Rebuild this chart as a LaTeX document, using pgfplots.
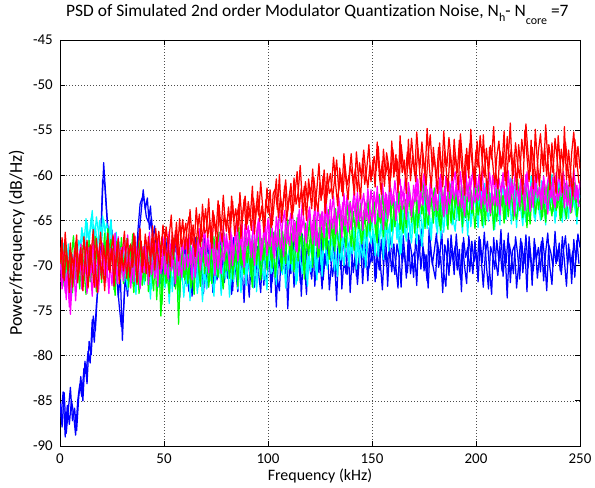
\documentclass[border=0pt]{standalone}
\usepackage{fontspec}
\setmainfont{Carlito}[Ligatures=CommonOff]
\usepackage{pgfplots}
\pgfplotsset{compat=1.18}
\usepackage{pgfplotstable}

% PSD values (dB/Hz) at 0,1,...,250 kHz (tables A) and 0.5,1.5,...,249.5 kHz (tables B)
\pgfplotstableread[row sep=\\, header=false]{
-85.2\\-87.9\\-84.1\\-88.6\\-86.0\\-83.5\\-87.2\\-85.8\\-88.3\\-84.6\\
-82.3\\-85.0\\-80.6\\-83.1\\-78.4\\-79.9\\-75.6\\-77.2\\-73.0\\-70.4\\
-64.8\\-58.6\\-62.3\\-65.9\\-68.4\\-66.1\\-70.8\\-69.2\\-73.5\\-71.0\\
-78.3\\-72.6\\-70.1\\-71.8\\-68.9\\-70.6\\-67.2\\-69.8\\-66.5\\-64.1\\
-61.6\\-63.8\\-62.5\\-66.0\\-64.7\\-68.2\\-67.0\\-70.3\\-68.6\\-71.2\\
-69.0\\-71.8\\-68.4\\-70.9\\-67.6\\-72.3\\-69.5\\-68.1\\-71.6\\-69.9\\
-67.8\\-70.6\\-72.9\\-68.7\\-69.8\\-66.9\\-71.3\\-70.2\\-68.0\\-73.1\\
-69.4\\-67.5\\-71.0\\-69.9\\-72.4\\-68.3\\-70.7\\-66.8\\-69.6\\-71.9\\
-68.9\\-70.5\\-67.3\\-72.8\\-69.1\\-70.9\\-68.2\\-71.7\\-69.3\\-67.0\\
-70.8\\-73.5\\-68.6\\-69.7\\-71.4\\-67.9\\-70.3\\-69.0\\-72.2\\-68.5\\
-70.1\\-67.4\\-71.8\\-69.3\\-74.6\\-68.8\\-70.5\\-66.7\\-69.9\\-72.0\\
-68.4\\-70.9\\-67.1\\-69.6\\-71.3\\-66.8\\-73.4\\-68.9\\-70.2\\-67.6\\
-69.8\\-71.5\\-68.0\\-70.7\\-66.4\\-69.2\\-72.6\\-68.7\\-70.0\\-67.3\\
-68.9\\-71.2\\-69.5\\-73.9\\-67.8\\-70.4\\-68.1\\-66.6\\-71.0\\-69.3\\
-67.5\\-70.8\\-68.6\\-72.1\\-69.0\\-66.9\\-70.3\\-68.2\\-71.7\\-67.4\\
-69.6\\-68.0\\-71.4\\-66.5\\-69.8\\-72.7\\-67.9\\-70.1\\-68.5\\-66.8\\
-69.3\\-71.0\\-67.6\\-68.9\\-72.4\\-66.7\\-69.5\\-70.8\\-67.2\\-68.6\\
-71.3\\-67.0\\-69.4\\-68.1\\-65.9\\-70.6\\-68.8\\-72.5\\-67.5\\-69.9\\
-68.3\\-66.4\\-70.2\\-69.0\\-73.0\\-67.7\\-68.9\\-71.1\\-66.6\\-69.4\\
-67.8\\-70.5\\-68.2\\-72.9\\-66.9\\-69.1\\-68.0\\-70.7\\-67.3\\-69.6\\
-68.5\\-71.8\\-67.1\\-69.7\\-66.3\\-70.0\\-72.6\\-67.9\\-68.8\\-70.4\\
-67.2\\-69.5\\-66.0\\-71.2\\-68.4\\-73.6\\-67.6\\-69.0\\-70.9\\-66.8\\
-68.7\\-71.5\\-67.4\\-69.8\\-66.6\\-70.3\\-68.1\\-72.2\\-67.0\\-69.3\\
-68.0\\-70.7\\-66.9\\-69.2\\-72.8\\-67.7\\-68.6\\-70.1\\-66.2\\-69.5\\
-67.5\\-71.0\\-68.3\\-66.7\\-69.9\\-68.2\\-72.0\\-67.1\\-69.4\\-66.5\\
-68.0\\
}\tblue
\pgfplotstableread[row sep=\\, header=false]{
-86.8\\-84.0\\-89.0\\-85.5\\-87.6\\-84.9\\-86.4\\-88.8\\-85.0\\-83.2\\
-84.5\\-81.4\\-82.0\\-79.5\\-80.8\\-76.0\\-78.5\\-74.3\\-72.0\\-67.5\\
-60.5\\-61.0\\-64.5\\-67.3\\-65.0\\-69.6\\-68.0\\-71.8\\-74.5\\-76.8\\
-75.0\\-71.2\\-73.4\\-69.5\\-71.9\\-68.3\\-70.5\\-66.0\\-63.2\\-62.5\\
-62.8\\-64.6\\-65.2\\-63.4\\-67.1\\-65.6\\-69.2\\-67.3\\-72.0\\-68.2\\
-70.6\\-67.0\\-72.8\\-68.9\\-70.4\\-66.5\\-71.1\\-73.6\\-68.6\\-70.2\\
-72.0\\-67.2\\-70.0\\-73.4\\-68.1\\-70.8\\-67.5\\-71.9\\-69.2\\-66.6\\
-72.5\\-70.1\\-67.9\\-73.0\\-69.3\\-71.6\\-68.1\\-72.8\\-70.4\\-67.8\\
-71.4\\-68.5\\-73.2\\-66.9\\-70.6\\-72.9\\-67.5\\-70.0\\-74.1\\-68.7\\
-69.5\\-71.6\\-66.6\\-72.4\\-68.8\\-70.9\\-73.0\\-67.4\\-70.6\\-71.8\\
-68.2\\-73.0\\-69.0\\-66.2\\-71.5\\-72.8\\-67.6\\-70.3\\-68.4\\-74.8\\
-69.3\\-67.0\\-72.4\\-70.1\\-68.0\\-71.9\\-66.5\\-69.7\\-73.2\\-68.6\\
-70.9\\-67.2\\-72.3\\-68.5\\-70.8\\-66.3\\-71.6\\-69.0\\-67.8\\-72.7\\
-69.8\\-67.1\\-71.4\\-68.3\\-66.0\\-72.6\\-69.4\\-70.9\\-67.5\\-73.0\\
-68.8\\-66.4\\-71.2\\-69.6\\-67.3\\-72.0\\-68.4\\-65.8\\-70.3\\-69.2\\
-66.9\\-71.8\\-68.7\\-70.5\\-67.1\\-69.9\\-66.2\\-72.3\\-68.0\\-70.7\\
-67.6\\-70.2\\-72.5\\-66.8\\-69.7\\-68.3\\-71.4\\-66.4\\-70.9\\-69.0\\
-68.5\\-72.2\\-66.6\\-70.4\\-67.9\\-69.4\\-71.7\\-65.8\\-68.9\\-70.3\\
-71.5\\-67.4\\-69.3\\-66.1\\-70.8\\-72.3\\-67.0\\-69.9\\-68.2\\-71.0\\
-66.5\\-69.7\\-71.4\\-67.5\\-70.1\\-72.0\\-66.7\\-68.8\\-70.9\\-67.2\\
-70.3\\-66.8\\-69.2\\-72.4\\-68.6\\-67.3\\-70.5\\-73.2\\-66.9\\-69.5\\
-71.1\\-68.0\\-70.6\\-67.2\\-69.7\\-66.4\\-71.9\\-68.4\\-67.8\\-72.5\\
-69.9\\-67.0\\-70.8\\-68.1\\-72.9\\-66.8\\-69.4\\-70.6\\-67.7\\-71.4\\
-69.0\\-67.3\\-71.7\\-68.5\\-66.4\\-70.2\\-72.1\\-67.9\\-69.8\\-68.2\\
-70.6\\-66.8\\-69.5\\-72.3\\-67.6\\-70.0\\-68.4\\-71.3\\-67.2\\-69.8\\
}\tblueB

\pgfplotstableread[row sep=\\, header=false]{
-68.5\\-71.2\\-69.0\\-72.4\\-67.6\\-70.1\\-68.8\\-71.9\\-69.3\\-67.2\\
-68.0\\-66.4\\-69.1\\-65.2\\-67.8\\-64.7\\-66.9\\-65.5\\-68.2\\-65.0\\
-67.3\\-64.9\\-66.6\\-68.7\\-65.8\\-67.1\\-69.4\\-66.3\\-70.2\\-68.0\\
-69.6\\-71.8\\-68.5\\-70.3\\-67.9\\-72.0\\-69.2\\-70.7\\-68.1\\-71.4\\
-69.8\\-67.5\\-70.9\\-68.4\\-72.6\\-69.0\\-67.7\\-71.1\\-69.5\\-73.2\\
-70.1\\-68.3\\-71.7\\-69.2\\-72.9\\-68.6\\-70.4\\-73.8\\-69.7\\-71.0\\
-68.8\\-72.3\\-70.0\\-67.9\\-71.5\\-69.3\\-73.1\\-70.6\\-68.5\\-72.0\\
-69.7\\-71.3\\-68.2\\-70.8\\-73.4\\-69.1\\-70.5\\-67.8\\-71.9\\-69.4\\
-70.6\\-68.0\\-72.2\\-69.5\\-67.6\\-71.0\\-68.9\\-73.0\\-69.8\\-68.3\\
-70.9\\-67.7\\-69.6\\-72.5\\-68.4\\-70.2\\-67.3\\-69.9\\-71.6\\-68.1\\
-69.4\\-66.8\\-70.7\\-68.6\\-72.1\\-67.9\\-69.2\\-71.0\\-67.5\\-68.8\\
-70.4\\-66.9\\-69.3\\-67.8\\-71.7\\-68.2\\-66.5\\-70.0\\-68.7\\-72.3\\
-67.6\\-69.0\\-66.2\\-70.5\\-68.1\\-67.0\\-71.2\\-66.7\\-68.9\\-69.8\\
-66.4\\-68.3\\-70.6\\-65.9\\-67.7\\-69.4\\-66.8\\-68.5\\-65.6\\-70.1\\
-67.2\\-65.8\\-68.9\\-66.3\\-69.7\\-64.9\\-67.5\\-70.2\\-65.7\\-66.9\\
-64.8\\-67.4\\-65.5\\-69.0\\-66.2\\-63.9\\-67.8\\-65.1\\-68.4\\-64.6\\
-66.5\\-63.7\\-67.1\\-65.3\\-68.6\\-64.2\\-66.8\\-63.4\\-65.9\\-67.5\\
-64.1\\-66.3\\-62.8\\-65.7\\-67.9\\-63.6\\-65.0\\-62.4\\-66.6\\-64.8\\
-63.2\\-65.9\\-62.7\\-67.0\\-64.4\\-62.1\\-65.6\\-63.8\\-61.5\\-64.9\\
-66.2\\-62.9\\-64.1\\-61.8\\-65.3\\-63.0\\-66.7\\-62.6\\-64.5\\-61.9\\
-63.7\\-65.8\\-62.2\\-64.0\\-60.9\\-63.4\\-65.1\\-62.0\\-63.9\\-66.0\\
-61.7\\-64.3\\-62.5\\-60.6\\-64.8\\-62.9\\-61.3\\-65.4\\-63.1\\-61.0\\
-64.6\\-62.3\\-60.2\\-63.5\\-65.2\\-61.6\\-63.8\\-62.1\\-64.7\\-60.8\\
-63.0\\-65.0\\-61.9\\-62.6\\-64.2\\-60.5\\-63.3\\-61.4\\-65.3\\-62.0\\
-60.7\\-63.6\\-62.4\\-64.9\\-61.2\\-63.1\\-60.3\\-62.8\\-64.4\\-61.5\\
-62.5\\
}\tcyan
\pgfplotstableread[row sep=\\, header=false]{
-70.4\\-67.5\\-72.6\\-68.3\\-71.0\\-73.5\\-69.6\\-67.9\\-70.8\\-68.6\\
-65.8\\-67.6\\-64.8\\-66.9\\-66.0\\-63.9\\-67.5\\-64.6\\-66.3\\-67.8\\
-64.5\\-66.2\\-65.3\\-67.5\\-64.9\\-68.2\\-66.5\\-69.0\\-67.4\\-70.8\\
-68.2\\-70.9\\-72.7\\-69.0\\-71.3\\-68.6\\-73.2\\-69.9\\-71.6\\-68.8\\
-72.1\\-68.9\\-70.4\\-73.7\\-67.9\\-71.5\\-69.3\\-72.4\\-70.0\\-68.7\\
-72.5\\-69.6\\-74.2\\-70.5\\-68.4\\-71.9\\-69.1\\-72.7\\-70.3\\-73.5\\
-70.7\\-68.2\\-73.9\\-69.6\\-71.2\\-68.7\\-72.4\\-69.9\\-74.0\\-70.5\\
-72.6\\-68.8\\-71.7\\-69.4\\-72.0\\-70.2\\-68.5\\-73.3\\-70.0\\-71.5\\
-69.2\\-73.5\\-70.4\\-71.8\\-68.9\\-72.6\\-69.7\\-71.4\\-67.9\\-72.2\\
-68.8\\-71.2\\-70.0\\-67.6\\-72.9\\-69.4\\-71.0\\-68.3\\-70.5\\-72.7\\
-68.0\\-70.9\\-67.3\\-71.5\\-69.6\\-66.9\\-70.8\\-68.5\\-72.5\\-69.0\\
-67.9\\-70.6\\-68.3\\-72.1\\-66.6\\-69.5\\-70.9\\-67.4\\-71.3\\-68.5\\
-70.7\\-67.4\\-69.3\\-71.6\\-66.7\\-69.9\\-68.3\\-65.9\\-70.4\\-67.2\\
-69.5\\-66.6\\-68.9\\-71.2\\-65.8\\-68.2\\-70.0\\-66.4\\-69.1\\-67.0\\
-68.7\\-66.2\\-70.4\\-64.8\\-67.7\\-69.1\\-66.0\\-68.4\\-64.5\\-67.6\\
-66.1\\-68.9\\-64.3\\-67.0\\-65.2\\-69.3\\-63.8\\-66.7\\-65.4\\-68.0\\
-64.9\\-62.9\\-66.4\\-68.8\\-63.5\\-65.6\\-67.3\\-64.1\\-66.9\\-62.8\\
-65.4\\-67.6\\-63.1\\-64.6\\-66.8\\-61.9\\-65.9\\-63.6\\-67.2\\-62.5\\
-64.8\\-66.5\\-61.8\\-63.9\\-66.3\\-62.6\\-64.7\\-60.9\\-65.5\\-63.4\\
-61.6\\-65.0\\-63.1\\-66.4\\-62.2\\-64.3\\-61.0\\-65.7\\-63.5\\-60.8\\
-64.9\\-62.5\\-61.2\\-65.8\\-63.6\\-60.4\\-64.2\\-62.7\\-66.1\\-61.5\\
-63.2\\-65.5\\-60.8\\-62.7\\-64.9\\-61.9\\-60.3\\-64.0\\-62.6\\-65.8\\
-61.4\\-63.7\\-65.6\\-60.9\\-62.4\\-64.5\\-60.1\\-63.0\\-65.1\\-61.8\\
-64.3\\-60.6\\-62.8\\-65.5\\-61.5\\-63.9\\-59.9\\-62.5\\-64.6\\-61.1\\
-63.4\\-65.2\\-61.0\\-62.6\\-64.8\\-60.7\\-63.5\\-61.9\\-65.4\\-62.2\\
}\tcyanB

\pgfplotstableread[row sep=\\, header=false]{
-70.5\\-67.8\\-72.3\\-69.1\\-71.6\\-68.2\\-73.0\\-69.7\\-67.4\\-71.2\\
-69.0\\-72.1\\-68.3\\-70.6\\-67.2\\-71.4\\-69.5\\-66.8\\-70.2\\-68.7\\
-71.9\\-67.6\\-69.8\\-65.9\\-70.4\\-68.1\\-72.7\\-67.3\\-69.9\\-71.5\\
-68.6\\-70.8\\-67.0\\-72.4\\-69.3\\-66.5\\-71.0\\-68.4\\-73.1\\-69.6\\
-67.9\\-71.7\\-69.0\\-66.7\\-70.5\\-72.8\\-68.2\\-70.9\\-67.4\\-74.3\\
-69.8\\-72.0\\-68.5\\-70.7\\-67.3\\-71.4\\-69.1\\-76.5\\-70.2\\-68.0\\
-71.6\\-67.8\\-69.9\\-72.5\\-68.3\\-70.4\\-66.9\\-71.2\\-68.8\\-69.7\\
-67.5\\-70.1\\-68.4\\-72.0\\-66.8\\-69.5\\-71.3\\-67.9\\-69.0\\-66.4\\
-70.6\\-68.1\\-66.9\\-71.5\\-67.4\\-69.3\\-65.8\\-70.0\\-68.6\\-67.2\\
-69.7\\-66.3\\-71.0\\-67.6\\-68.9\\-65.7\\-70.2\\-67.0\\-69.4\\-66.6\\
-68.2\\-65.5\\-70.3\\-66.9\\-67.8\\-64.9\\-69.6\\-66.2\\-68.5\\-65.8\\
-67.3\\-69.8\\-65.6\\-67.9\\-64.7\\-68.4\\-66.1\\-70.0\\-65.3\\-67.5\\
-64.8\\-68.7\\-66.4\\-65.2\\-69.1\\-64.3\\-67.0\\-65.9\\-68.2\\-63.8\\
-66.7\\-64.9\\-68.4\\-65.4\\-63.6\\-67.3\\-64.5\\-66.8\\-63.2\\-65.7\\
-67.9\\-64.0\\-66.3\\-62.8\\-65.6\\-67.6\\-63.9\\-65.0\\-62.5\\-66.2\\
-64.4\\-62.9\\-66.6\\-63.7\\-65.3\\-61.9\\-64.8\\-66.0\\-63.1\\-64.6\\
-62.4\\-65.7\\-63.5\\-61.8\\-64.9\\-66.4\\-62.7\\-64.1\\-61.6\\-65.2\\
-63.4\\-61.9\\-65.8\\-62.6\\-64.3\\-60.8\\-63.9\\-65.5\\-62.2\\-63.0\\
-61.4\\-64.6\\-62.8\\-66.1\\-63.3\\-61.2\\-64.0\\-62.4\\-65.3\\-61.7\\
-63.6\\-62.0\\-65.0\\-61.1\\-63.8\\-64.7\\-62.3\\-60.6\\-64.2\\-62.9\\
-61.5\\-64.4\\-63.0\\-65.6\\-61.9\\-63.2\\-60.7\\-64.5\\-62.1\\-63.7\\
-65.1\\-61.6\\-63.4\\-62.2\\-64.8\\-60.9\\-63.6\\-61.8\\-65.0\\-62.5\\
-60.4\\-63.9\\-62.0\\-64.3\\-61.3\\-63.1\\-65.4\\-61.7\\-62.8\\-60.6\\
-63.8\\-62.2\\-64.6\\-61.0\\-63.5\\-62.6\\-60.8\\-64.0\\-62.3\\-63.6\\
-61.4\\-64.7\\-62.9\\-60.9\\-63.3\\-62.0\\-64.1\\-61.6\\-63.0\\-62.4\\
-63.2\\
}\tgreen
\pgfplotstableread[row sep=\\, header=false]{
-68.6\\-71.9\\-67.2\\-70.3\\-73.4\\-69.0\\-66.7\\-71.5\\-69.8\\-72.6\\
-67.7\\-70.4\\-73.2\\-68.9\\-71.8\\-67.6\\-70.0\\-72.9\\-68.5\\-71.0\\
-69.2\\-66.4\\-71.3\\-68.8\\-67.1\\-70.5\\-73.3\\-68.2\\-70.8\\-66.9\\
-72.0\\-69.0\\-71.6\\-67.8\\-70.1\\-73.0\\-68.0\\-70.6\\-67.1\\-72.2\\
-70.3\\-68.0\\-72.9\\-69.4\\-71.2\\-67.5\\-73.8\\-69.0\\-75.6\\-71.2\\
-68.3\\-70.9\\-73.1\\-69.2\\-67.0\\-72.6\\-70.4\\-73.5\\-67.7\\-71.3\\
-69.4\\-72.0\\-67.3\\-70.6\\-73.2\\-67.7\\-69.8\\-72.3\\-67.1\\-70.9\\
-68.8\\-72.4\\-69.6\\-67.0\\-71.1\\-68.4\\-66.3\\-70.8\\-72.6\\-68.2\\
-69.1\\-71.4\\-67.9\\-70.3\\-68.6\\-72.3\\-67.0\\-69.2\\-71.0\\-66.5\\
-68.5\\-70.2\\-72.4\\-66.8\\-69.9\\-67.4\\-71.6\\-68.6\\-65.8\\-70.5\\
-67.1\\-69.4\\-66.3\\-71.3\\-68.7\\-66.0\\-70.6\\-67.9\\-69.8\\-64.9\\
-68.6\\-66.4\\-70.7\\-66.9\\-69.5\\-65.2\\-67.8\\-71.5\\-66.7\\-68.9\\
-66.1\\-70.2\\-64.6\\-67.5\\-69.0\\-65.8\\-68.3\\-63.9\\-67.1\\-69.3\\
-65.3\\-67.8\\-63.7\\-66.9\\-68.6\\-64.4\\-66.1\\-68.0\\-64.9\\-62.9\\
-66.5\\-68.3\\-64.7\\-65.9\\-63.1\\-67.2\\-64.3\\-66.8\\-63.6\\-65.4\\
-62.6\\-65.8\\-67.5\\-62.1\\-64.4\\-66.8\\-63.0\\-65.1\\-61.8\\-66.2\\
-63.7\\-64.8\\-61.4\\-66.0\\-62.9\\-63.9\\-65.8\\-61.2\\-64.4\\-62.6\\
-66.4\\-62.8\\-64.9\\-60.7\\-63.4\\-65.9\\-61.6\\-64.1\\-62.7\\-65.3\\
-62.0\\-63.8\\-65.6\\-61.4\\-64.6\\-62.3\\-66.0\\-61.0\\-63.7\\-64.9\\
-61.9\\-64.3\\-62.6\\-65.7\\-60.4\\-63.5\\-65.0\\-61.6\\-63.2\\-65.9\\
-62.8\\-60.8\\-64.3\\-62.4\\-65.5\\-61.3\\-63.9\\-62.0\\-66.0\\-62.9\\
-60.6\\-64.0\\-62.3\\-65.3\\-61.5\\-64.6\\-62.4\\-60.5\\-63.8\\-64.9\\
-62.6\\-61.0\\-64.7\\-62.0\\-65.8\\-61.9\\-63.5\\-60.2\\-64.3\\-62.7\\
-61.3\\-64.9\\-62.4\\-65.2\\-60.9\\-63.0\\-64.5\\-61.6\\-63.9\\-62.1\\
-65.0\\-61.7\\-63.4\\-64.8\\-61.1\\-64.2\\-62.5\\-60.8\\-64.6\\-62.9\\
}\tgreenB

\pgfplotstableread[row sep=\\, header=false]{
-68.9\\-72.6\\-70.0\\-73.8\\-69.4\\-75.4\\-71.1\\-68.2\\-72.0\\-70.5\\
-67.6\\-71.3\\-69.2\\-73.1\\-68.0\\-70.8\\-66.9\\-72.4\\-69.6\\-67.8\\
-70.7\\-68.3\\-71.9\\-67.1\\-69.5\\-72.2\\-68.6\\-70.1\\-66.8\\-71.4\\
-69.0\\-67.4\\-70.6\\-68.1\\-72.5\\-69.3\\-66.7\\-70.9\\-68.4\\-71.6\\
-67.9\\-70.2\\-68.8\\-66.3\\-71.0\\-69.1\\-67.5\\-72.3\\-68.0\\-70.4\\
-66.8\\-69.7\\-71.5\\-67.6\\-70.0\\-68.2\\-66.4\\-71.1\\-69.0\\-67.3\\
-70.5\\-68.1\\-66.6\\-69.8\\-67.4\\-71.3\\-68.5\\-65.9\\-69.2\\-67.0\\
-70.1\\-66.7\\-68.9\\-65.8\\-69.6\\-67.2\\-70.4\\-66.3\\-68.0\\-69.5\\
-66.5\\-68.7\\-65.6\\-70.0\\-67.1\\-65.0\\-68.3\\-66.9\\-69.4\\-65.4\\
-67.8\\-66.1\\-69.1\\-64.9\\-68.6\\-66.4\\-65.2\\-68.8\\-66.0\\-67.5\\
-64.8\\-67.9\\-65.9\\-69.2\\-64.6\\-66.7\\-68.1\\-65.3\\-63.9\\-67.6\\
-65.6\\-64.2\\-67.4\\-65.1\\-68.5\\-63.8\\-66.3\\-64.7\\-67.1\\-65.0\\
-63.5\\-66.6\\-64.4\\-67.8\\-63.3\\-65.7\\-64.0\\-66.9\\-63.1\\-65.4\\
-62.7\\-65.9\\-63.8\\-66.2\\-62.4\\-64.8\\-63.0\\-65.6\\-62.2\\-64.3\\
-66.0\\-62.6\\-64.5\\-61.9\\-65.1\\-63.4\\-62.0\\-64.9\\-61.5\\-63.7\\
-65.2\\-61.8\\-63.6\\-62.3\\-64.7\\-60.9\\-63.2\\-62.1\\-64.4\\-61.4\\
-63.0\\-60.6\\-62.8\\-64.1\\-61.2\\-62.5\\-60.3\\-63.7\\-61.9\\-64.6\\
-61.1\\-62.9\\-60.4\\-63.5\\-61.6\\-59.8\\-62.7\\-64.0\\-60.8\\-62.2\\
-63.9\\-60.5\\-62.0\\-59.9\\-63.3\\-61.4\\-64.3\\-60.7\\-62.6\\-61.0\\
-59.6\\-62.4\\-60.9\\-63.6\\-61.7\\-59.2\\-62.3\\-60.1\\-63.8\\-61.3\\
-60.2\\-62.8\\-61.5\\-59.5\\-63.2\\-60.6\\-62.1\\-64.2\\-60.0\\-61.8\\
-63.4\\-60.3\\-61.9\\-59.7\\-62.6\\-61.1\\-63.7\\-60.4\\-62.0\\-59.4\\
-61.6\\-63.5\\-60.1\\-62.4\\-59.9\\-61.3\\-64.0\\-60.8\\-62.2\\-61.0\\
-59.5\\-62.9\\-60.7\\-63.1\\-61.4\\-59.8\\-62.5\\-60.2\\-63.6\\-61.2\\
-60.0\\-62.3\\-59.6\\-61.9\\-63.4\\-60.5\\-62.0\\-59.3\\-61.7\\-63.0\\
-60.6\\
}\tmagenta
\pgfplotstableread[row sep=\\, header=false]{
-71.8\\-68.5\\-73.0\\-70.7\\-74.6\\-72.1\\-69.3\\-73.9\\-70.1\\-68.4\\
-72.6\\-70.0\\-67.9\\-71.8\\-69.9\\-73.4\\-68.5\\-70.6\\-72.9\\-69.3\\
-67.5\\-71.0\\-69.6\\-73.1\\-68.1\\-70.4\\-66.4\\-72.0\\-69.7\\-68.0\\
-71.7\\-69.3\\-66.6\\-70.9\\-68.6\\-71.8\\-67.9\\-69.5\\-72.6\\-68.7\\
-70.8\\-67.2\\-72.1\\-69.6\\-67.0\\-71.4\\-69.8\\-66.6\\-70.9\\-68.2\\
-71.0\\-68.3\\-66.2\\-70.6\\-68.9\\-72.0\\-67.3\\-69.8\\-71.3\\-68.1\\
-66.9\\-70.2\\-68.7\\-71.6\\-66.8\\-69.7\\-67.2\\-70.5\\-68.3\\-65.8\\
-68.9\\-70.8\\-66.2\\-68.5\\-71.1\\-66.9\\-68.2\\-70.9\\-65.5\\-68.6\\
-67.3\\-70.4\\-66.6\\-68.9\\-66.0\\-69.5\\-67.6\\-65.3\\-70.2\\-67.0\\
-65.6\\-68.4\\-67.1\\-70.0\\-66.3\\-64.8\\-69.4\\-67.7\\-65.0\\-68.9\\
-66.5\\-64.2\\-68.7\\-66.1\\-67.9\\-63.8\\-66.4\\-69.0\\-64.9\\-66.2\\
-67.8\\-63.6\\-66.0\\-68.4\\-64.3\\-66.7\\-62.9\\-65.9\\-67.5\\-63.9\\
-65.2\\-67.6\\-63.0\\-65.9\\-68.1\\-64.4\\-66.3\\-62.6\\-65.0\\-67.0\\
-64.1\\-62.3\\-66.5\\-64.8\\-63.2\\-66.9\\-62.0\\-64.6\\-66.3\\-63.0\\
-64.3\\-61.4\\-65.7\\-63.2\\-62.0\\-66.1\\-62.9\\-63.8\\-65.3\\-61.6\\
-63.5\\-65.4\\-61.2\\-64.6\\-62.6\\-66.0\\-61.9\\-64.8\\-60.5\\-63.3\\
-62.2\\-65.0\\-61.4\\-60.4\\-63.8\\-62.0\\-64.9\\-60.8\\-62.5\\-63.6\\
-62.4\\-60.0\\-64.2\\-61.9\\-63.3\\-60.6\\-61.8\\-64.4\\-61.0\\-63.2\\
-61.7\\-63.9\\-60.3\\-62.8\\-64.6\\-60.1\\-62.4\\-63.2\\-59.8\\-62.7\\
-61.0\\-63.4\\-59.6\\-62.1\\-64.5\\-60.7\\-62.9\\-61.3\\-59.4\\-63.0\\
-61.9\\-59.9\\-63.7\\-61.2\\-62.5\\-64.0\\-59.7\\-61.6\\-63.3\\-60.4\\
-62.1\\-64.4\\-60.8\\-61.5\\-63.3\\-59.5\\-62.7\\-61.0\\-64.5\\-60.6\\
-62.9\\-60.4\\-61.8\\-63.9\\-59.6\\-62.4\\-61.2\\-63.6\\-59.8\\-62.5\\
-61.3\\-63.8\\-60.1\\-62.0\\-64.3\\-60.9\\-61.6\\-63.2\\-59.7\\-62.8\\
-61.5\\-59.8\\-63.6\\-60.6\\-62.4\\-64.1\\-60.3\\-62.7\\-61.1\\-63.5\\
}\tmagentaB

\pgfplotstableread[row sep=\\, header=false]{
-69.8\\-66.9\\-71.7\\-68.2\\-70.6\\-67.5\\-72.4\\-69.1\\-66.6\\-70.9\\
-68.0\\-72.8\\-69.4\\-67.2\\-71.1\\-68.7\\-66.0\\-70.3\\-73.0\\-68.5\\
-71.5\\-67.8\\-69.9\\-66.4\\-70.8\\-68.1\\-72.3\\-69.2\\-67.0\\-70.6\\
-68.4\\-66.2\\-71.4\\-69.0\\-67.6\\-70.2\\-66.8\\-72.1\\-68.9\\-67.3\\
-70.0\\-66.5\\-68.7\\-71.2\\-67.4\\-69.3\\-65.9\\-68.6\\-70.4\\-66.8\\
-68.9\\-65.7\\-67.8\\-70.1\\-66.3\\-68.4\\-65.2\\-69.5\\-67.0\\-64.9\\
-68.2\\-66.0\\-64.6\\-67.7\\-65.5\\-69.0\\-66.2\\-64.3\\-67.3\\-65.8\\
-63.7\\-66.9\\-65.0\\-68.1\\-64.4\\-66.5\\-62.8\\-65.6\\-67.4\\-64.1\\
-66.2\\-63.5\\-65.8\\-62.9\\-66.7\\-64.6\\-63.2\\-67.0\\-64.0\\-62.3\\
-65.4\\-63.8\\-66.1\\-62.6\\-64.9\\-61.8\\-65.1\\-63.4\\-66.3\\-62.7\\
-64.2\\-61.6\\-65.5\\-63.0\\-60.4\\-64.7\\-62.4\\-63.9\\-61.2\\-65.0\\
-62.8\\-60.9\\-64.1\\-62.0\\-59.6\\-63.6\\-61.5\\-64.4\\-60.7\\-62.9\\
-61.3\\-63.7\\-60.2\\-62.5\\-64.0\\-60.8\\-62.2\\-59.4\\-63.1\\-61.0\\
-59.8\\-62.6\\-60.5\\-58.3\\-61.7\\-59.9\\-62.3\\-58.8\\-61.1\\-60.0\\
-57.6\\-60.9\\-59.3\\-61.8\\-58.6\\-60.4\\-57.2\\-59.7\\-61.4\\-58.9\\
-60.1\\-57.9\\-59.5\\-56.8\\-60.6\\-58.4\\-61.2\\-57.5\\-59.0\\-60.3\\
-57.1\\-59.6\\-58.2\\-61.0\\-56.6\\-58.8\\-60.0\\-57.4\\-59.3\\-55.9\\
-58.5\\-60.7\\-57.0\\-59.2\\-56.3\\-58.9\\-61.1\\-57.8\\-55.5\\-59.4\\
-58.0\\-60.4\\-56.9\\-58.6\\-61.3\\-57.3\\-59.0\\-55.8\\-58.2\\-60.1\\
-57.5\\-59.7\\-56.1\\-58.8\\-60.9\\-57.7\\-59.4\\-56.5\\-58.3\\-60.5\\
-57.2\\-59.1\\-55.6\\-58.4\\-60.2\\-57.0\\-59.8\\-56.7\\-58.6\\-61.0\\
-57.9\\-56.2\\-59.3\\-57.4\\-60.6\\-55.7\\-58.5\\-57.1\\-59.9\\-56.4\\
-58.8\\-60.3\\-56.0\\-58.1\\-54.3\\-57.6\\-59.6\\-56.9\\-58.7\\-60.8\\
-57.3\\-55.4\\-58.9\\-57.0\\-60.1\\-56.6\\-58.4\\-59.7\\-55.9\\-58.2\\
-60.4\\-57.1\\-59.0\\-56.3\\-58.6\\-61.2\\-57.5\\-55.2\\-59.1\\-56.8\\
-59.3\\
}\tred
\pgfplotstableread[row sep=\\, header=false]{
-68.0\\-71.4\\-66.3\\-69.5\\-73.0\\-68.6\\-70.2\\-67.4\\-71.9\\-68.8\\
-70.5\\-66.8\\-70.0\\-72.5\\-67.7\\-70.1\\-72.4\\-67.0\\-69.9\\-66.3\\
-69.7\\-72.8\\-67.2\\-70.5\\-68.6\\-66.6\\-70.9\\-67.7\\-72.0\\-68.3\\
-70.6\\-68.5\\-67.0\\-71.3\\-69.4\\-66.4\\-70.0\\-68.2\\-65.9\\-70.8\\
-68.2\\-70.9\\-66.8\\-69.8\\-65.6\\-70.5\\-67.9\\-66.2\\-69.0\\-65.5\\
-67.2\\-69.8\\-66.7\\-64.4\\-69.3\\-66.1\\-68.8\\-64.8\\-67.9\\-66.6\\
-65.3\\-68.7\\-63.8\\-66.9\\-68.0\\-63.6\\-66.5\\-67.9\\-63.2\\-66.4\\
-66.0\\-62.6\\-67.4\\-63.9\\-65.7\\-68.2\\-63.3\\-66.1\\-62.2\\-65.5\\
-64.8\\-67.1\\-62.3\\-65.1\\-63.7\\-66.2\\-61.9\\-65.3\\-62.7\\-66.0\\
-62.9\\-64.6\\-61.2\\-66.5\\-63.0\\-64.4\\-60.7\\-63.7\\-65.6\\-61.4\\
-63.6\\-65.8\\-62.0\\-61.5\\-63.8\\-59.9\\-65.2\\-62.6\\-60.5\\-63.9\\
-61.8\\-64.8\\-60.3\\-63.2\\-61.9\\-58.9\\-63.0\\-61.2\\-65.0\\-60.4\\
-62.4\\-59.3\\-63.9\\-61.5\\-58.7\\-62.8\\-60.1\\-64.2\\-59.8\\-62.0\\
-61.4\\-58.0\\-60.9\\-63.4\\-59.2\\-61.8\\-57.6\\-60.6\\-62.7\\-59.0\\
-59.9\\-62.2\\-57.4\\-60.3\\-62.6\\-58.1\\-61.0\\-59.2\\-56.6\\-60.7\\
-58.3\\-61.3\\-56.3\\-59.9\\-62.1\\-57.1\\-60.0\\-58.6\\-61.8\\-56.2\\
-60.2\\-57.7\\-61.9\\-55.6\\-59.7\\-58.3\\-62.0\\-56.0\\-60.6\\-57.8\\
-59.9\\-55.2\\-58.3\\-61.7\\-57.6\\-60.0\\-54.8\\-58.9\\-61.4\\-56.9\\
-59.5\\-62.0\\-56.4\\-60.2\\-55.1\\-58.8\\-61.8\\-57.2\\-60.6\\-56.0\\
-59.1\\-61.6\\-55.4\\-58.4\\-62.2\\-57.0\\-60.3\\-54.9\\-59.0\\-61.4\\
-56.2\\-58.9\\-61.7\\-55.5\\-59.4\\-62.0\\-56.9\\-58.2\\-54.6\\-59.6\\
-61.5\\-57.3\\-59.0\\-55.1\\-61.2\\-58.1\\-54.2\\-60.4\\-57.5\\-61.6\\
-56.6\\-59.2\\-62.1\\-55.0\\-57.9\\-60.7\\-56.1\\-61.5\\-54.9\\-58.5\\
-61.2\\-56.8\\-59.6\\-54.4\\-58.2\\-61.6\\-56.4\\-60.0\\-62.0\\-55.6\\
-58.8\\-61.9\\-54.6\\-60.5\\-57.2\\-59.8\\-62.3\\-56.0\\-58.4\\-60.9\\
}\tredB

\begin{document}
\begin{tikzpicture}[x=1bp,y=1bp]
\path[use as bounding box] (-60,-42) rectangle (535,446);
\begin{axis}[
  at={(0,0)}, anchor=south west,
  scale only axis, width=520bp, height=406bp,
  xmin=0, xmax=250, ymin=-90, ymax=-45,
  xtick={0,50,...,250}, ytick={-90,-85,...,-45},
  grid=major, grid style={dash pattern=on 0.9bp off 2.1bp, black!70, line width=0.7bp},
  tick align=inside, major tick length=5bp,
  tick style={black, line width=0.9bp},
  axis line style={black, line width=0.9bp},
  /pgf/number format/assume math mode=true,
  ticklabel style={font=\fontsize{15}{15}\selectfont, inner sep=0pt},
  xticklabel style={anchor=north, yshift=-8bp},
  yticklabel style={anchor=east, xshift=-7bp},
  xlabel={Frequency (kHz)},
  ylabel={Power/frequency (dB/Hz)},
  xlabel style={font=\fontsize{16}{16}\selectfont, at={(axis description cs:0.5,-0.075)}, anchor=center},
  ylabel style={font=\fontsize{18}{18}\selectfont, at={(axis description cs:-0.083,0.5)}, anchor=center},
  title={PSD of Simulated 2nd order Modulator Quantization Noise, N\raisebox{-0.3em}{\fontsize{12}{12}\selectfont h}- N\raisebox{-0.45em}{\fontsize{12}{12}\selectfont core} =7},
  title style={font=\fontsize{17.5}{18}\selectfont, at={(axis description cs:0.495,1)}, yshift=17.3bp, anchor=base, inner sep=0pt},
  every axis plot/.append style={no marks, line width=1.25bp, line join=round},
]
\addplot[color={rgb,1:red,0;green,0;blue,1}] table[x expr=\coordindex, y index=0] {\tblue};
\addplot[color={rgb,1:red,0;green,0;blue,1}] table[x expr=\coordindex+0.5, y index=0] {\tblueB};
\addplot[color={rgb,1:red,0;green,1;blue,1}] table[x expr=\coordindex, y index=0] {\tcyan};
\addplot[color={rgb,1:red,0;green,1;blue,1}] table[x expr=\coordindex+0.5, y index=0] {\tcyanB};
\addplot[color={rgb,1:red,0;green,1;blue,0}] table[x expr=\coordindex, y index=0] {\tgreen};
\addplot[color={rgb,1:red,0;green,1;blue,0}] table[x expr=\coordindex+0.5, y index=0] {\tgreenB};
\addplot[color={rgb,1:red,1;green,0;blue,1}] table[x expr=\coordindex, y index=0] {\tmagenta};
\addplot[color={rgb,1:red,1;green,0;blue,1}] table[x expr=\coordindex+0.5, y index=0] {\tmagentaB};
\addplot[color={rgb,1:red,1;green,0;blue,0}] table[x expr=\coordindex, y index=0] {\tred};
\addplot[color={rgb,1:red,1;green,0;blue,0}] table[x expr=\coordindex+0.5, y index=0] {\tredB};
\end{axis}
\end{tikzpicture}
\end{document}
